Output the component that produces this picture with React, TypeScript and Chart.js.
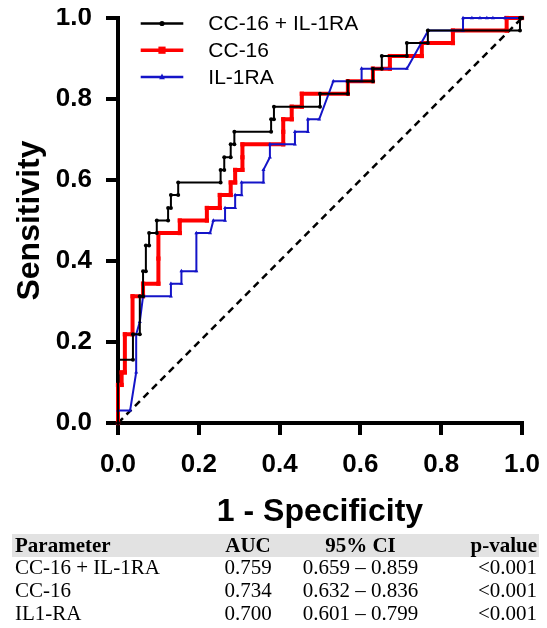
import React, { useEffect, useRef } from 'react';
import { Chart, registerables } from 'chart.js';

Chart.register(...registerables);

// ---- Data (1 - Specificity, Sensitivity) ----
const comboLabel = 'CC-16 + IL-1RA';
const comboFpr = [0, 0, 0.037, 0.037, 0.054, 0.054, 0.062, 0.062, 0.069, 0.069, 0.077, 0.077, 0.096, 0.096, 0.124, 0.124, 0.131, 0.131, 0.149, 0.149, 0.254, 0.254, 0.263, 0.263, 0.279, 0.279, 0.288, 0.288, 0.379, 0.379, 0.386, 0.386, 0.5, 0.5, 0.569, 0.569, 0.631, 0.631, 0.653, 0.653, 0.715, 0.715, 0.767, 0.767, 0.995, 0.995, 1];
const comboTpr = [0, 0.156, 0.156, 0.219, 0.219, 0.313, 0.313, 0.375, 0.375, 0.438, 0.438, 0.469, 0.469, 0.5, 0.5, 0.531, 0.531, 0.563, 0.563, 0.594, 0.594, 0.625, 0.625, 0.656, 0.656, 0.688, 0.688, 0.719, 0.719, 0.75, 0.75, 0.781, 0.781, 0.813, 0.813, 0.844, 0.844, 0.875, 0.875, 0.906, 0.906, 0.938, 0.938, 0.969, 0.969, 1, 1];

const cc16Label = 'CC-16';
const cc16Fpr = [0, 0, 0.009, 0.009, 0.017, 0.017, 0.036, 0.036, 0.062, 0.062, 0.1, 0.1, 0.1, 0.153, 0.153, 0.22, 0.22, 0.252, 0.252, 0.279, 0.279, 0.29, 0.29, 0.308, 0.308, 0.308, 0.409, 0.409, 0.409, 0.43, 0.43, 0.455, 0.455, 0.569, 0.569, 0.631, 0.631, 0.673, 0.673, 0.752, 0.752, 0.829, 0.829, 0.962, 0.962, 1];
const cc16Tpr = [0, 0.094, 0.094, 0.125, 0.125, 0.219, 0.219, 0.313, 0.313, 0.344, 0.344, 0.406, 0.469, 0.469, 0.5, 0.5, 0.531, 0.531, 0.563, 0.563, 0.594, 0.594, 0.625, 0.625, 0.656, 0.688, 0.688, 0.719, 0.75, 0.75, 0.781, 0.781, 0.813, 0.813, 0.844, 0.844, 0.875, 0.875, 0.906, 0.906, 0.938, 0.938, 0.969, 0.969, 1, 1];

const il1raLabel = 'IL-1RA';
const il1raFpr = [0, 0, 0.03, 0.045, 0.045, 0.054, 0.062, 0.131, 0.131, 0.157, 0.157, 0.194, 0.194, 0.228, 0.236, 0.265, 0.265, 0.29, 0.29, 0.306, 0.306, 0.36, 0.36, 0.376, 0.376, 0.438, 0.438, 0.47, 0.47, 0.498, 0.533, 0.603, 0.603, 0.715, 0.768, 0.854, 0.854, 0.876, 0.896, 0.913, 0.928, 0.958, 0.995, 1];
const il1raTpr = [0, 0.031, 0.031, 0.125, 0.219, 0.25, 0.313, 0.313, 0.344, 0.344, 0.375, 0.375, 0.469, 0.469, 0.5, 0.5, 0.531, 0.531, 0.563, 0.563, 0.594, 0.594, 0.625, 0.656, 0.688, 0.688, 0.719, 0.719, 0.75, 0.75, 0.844, 0.844, 0.875, 0.875, 0.969, 0.969, 1, 1, 1, 1, 1, 1, 1, 1];

const refFpr = [0, 1];
const refTpr = [0, 1];

const axisTicks = [0, 0.2, 0.4, 0.6, 0.8, 1.0];
const xTitle = '1 - Specificity';
const yTitle = 'Sensitivity';

// ---- Table ----
const tableHeader = ['Parameter', 'AUC', '95% CI', 'p-value'];
const tableParams = ['CC-16 + IL-1RA', 'CC-16', 'IL1-RA'];
const tableAuc = ['0.759', '0.734', '0.700'];
const tableCi = ['0.659 \u2013 0.859', '0.632 \u2013 0.836', '0.601 \u2013 0.799'];
const tableP = ['<0.001', '<0.001', '<0.001'];

const toPoints = (xs: number[], ys: number[]) => xs.map((x, i) => ({ x, y: ys[i] }));

const BLUE = '#1414c8';
const RED = '#ff0000';
const SANS = '"Liberation Sans", Arial, sans-serif';

function drawMarker(ctx: CanvasRenderingContext2D, style: string, x: number, y: number, r: number, color: string) {
  ctx.fillStyle = color;
  ctx.beginPath();
  if (style === 'circle') {
    ctx.arc(x, y, r, 0, Math.PI * 2);
  } else if (style === 'rect') {
    ctx.rect(x - r, y - r, 2 * r, 2 * r);
  } else {
    ctx.moveTo(x, y - r * 1.2);
    ctx.lineTo(x + r, y + r * 0.8);
    ctx.lineTo(x - r, y + r * 0.8);
    ctx.closePath();
  }
  ctx.fill();
}

const legendPlugin = {
  id: 'rocLegend',
  afterDatasetsDraw(chart: any) {
    const ctx: CanvasRenderingContext2D = chart.ctx;
    const { left, top } = chart.chartArea;
    const order = [0, 2, 1];
    order.forEach((idx, i) => {
      const ds = chart.data.datasets[idx];
      const y = top + 5.5 + i * 26.7;
      const x0 = left + 22.7;
      const x1 = left + 65.3;
      ctx.save();
      ctx.strokeStyle = ds.borderColor;
      ctx.lineWidth = ds.legendWidth;
      ctx.beginPath();
      ctx.moveTo(x0, y);
      ctx.lineTo(x1, y);
      ctx.stroke();
      drawMarker(ctx, ds.pointStyle, (x0 + x1) / 2, y, ds.pointRadius + 0.6, ds.borderColor);
      ctx.fillStyle = '#000';
      ctx.font = `21px ${SANS}`;
      ctx.textBaseline = 'middle';
      ctx.textAlign = 'left';
      ctx.fillText(ds.label, left + 90.3, y + 1);
      ctx.restore();
    });
  },
};

export default function App() {
  const ref = useRef<HTMLCanvasElement>(null);

  useEffect(() => {
    if (!ref.current) return;
    const chart = new Chart(ref.current, {
      type: 'scatter',
      data: {
        datasets: [
          {
            label: comboLabel,
            data: toPoints(comboFpr, comboTpr),
            showLine: true,
            borderColor: '#000',
            backgroundColor: '#000',
            borderWidth: 2,
            legendWidth: 2.5,
            pointStyle: 'circle',
            pointRadius: 2,
            pointBorderWidth: 0,
            clip: false,
          } as any,
          {
            label: il1raLabel,
            data: toPoints(il1raFpr, il1raTpr),
            showLine: true,
            borderColor: BLUE,
            backgroundColor: BLUE,
            borderWidth: 2,
            legendWidth: 2.5,
            pointStyle: 'triangle',
            pointRadius: 2.3,
            pointBorderWidth: 0,
            clip: false,
          } as any,
          {
            label: cc16Label,
            data: toPoints(cc16Fpr, cc16Tpr),
            showLine: true,
            borderColor: RED,
            backgroundColor: RED,
            borderWidth: 4,
            legendWidth: 3.5,
            pointStyle: 'rect',
            pointRadius: 3,
            pointBorderWidth: 0,
            clip: false,
          } as any,
          {
            label: 'Reference',
            data: toPoints(refFpr, refTpr),
            showLine: true,
            borderColor: '#000',
            borderWidth: 2.5,
            borderDash: [7, 5],
            pointRadius: 0,
            clip: false,
          } as any,
        ],
      },
      options: {
        animation: false,
        responsive: false,
        maintainAspectRatio: false,
        layout: { padding: 0 },
        plugins: {
          legend: { display: false },
          tooltip: { enabled: false },
        },
        elements: { line: { tension: 0 } },
        scales: {
          x: {
            type: 'linear',
            position: 'bottom',
            min: 0,
            max: 1,
            afterBuildTicks: (scale: any) => {
              scale.ticks = axisTicks.map((v) => ({ value: v }));
            },
            afterFit: (scale: any) => {
              scale.height = 111;
              scale.paddingLeft = 0;
              scale.paddingRight = 17;
            },
            grid: {
              display: true,
              drawOnChartArea: false,
              drawTicks: true,
              tickLength: 12,
              tickWidth: 4,
              tickColor: '#000',
              color: '#000',
              lineWidth: 4,
            },
            border: { display: true, color: '#000', width: 4 },
            ticks: {
              padding: 14,
              color: '#000',
              font: { family: SANS, size: 26, weight: 'bold' },
              callback: (v: any) => Number(v).toFixed(1),
            },
            title: {
              display: true,
              text: xTitle,
              color: '#000',
              font: { family: SANS, size: 32, weight: 'bold' },
              padding: { top: 0, bottom: 3 },
            },
          },
          y: {
            type: 'linear',
            position: 'left',
            min: 0,
            max: 1,
            afterBuildTicks: (scale: any) => {
              scale.ticks = axisTicks.map((v) => ({ value: v }));
            },
            afterFit: (scale: any) => {
              scale.width = 110;
              scale.paddingTop = 10;
              scale.paddingBottom = 0;
            },
            grid: {
              display: true,
              drawOnChartArea: false,
              drawTicks: true,
              tickLength: 12,
              tickWidth: 4,
              tickColor: '#000',
              color: '#000',
              lineWidth: 4,
            },
            border: { display: true, color: '#000', width: 4 },
            ticks: {
              padding: 14,
              color: '#000',
              font: { family: SANS, size: 26, weight: 'bold' },
              callback: (v: any) => Number(v).toFixed(1),
            },
            title: {
              display: true,
              text: yTitle,
              color: '#000',
              font: { family: SANS, size: 32, weight: 'bold' },
              padding: { top: 3, bottom: 0 },
            },
          },
        },
      } as any,
      plugins: [legendPlugin],
    });
    return () => chart.destroy();
  }, []);

  const cell: React.CSSProperties = {
    padding: '0 2px 3px 2px',
    height: 20,
    lineHeight: '20px',
    whiteSpace: 'nowrap',
    verticalAlign: 'top',
  };

  return (
    <div style={{ width: 531, height: 612, overflow: 'hidden' }}>
      <canvas ref={ref} width={531} height={526} style={{ display: 'block', width: 531, height: 526 }} />
      <table
        style={{
          borderCollapse: 'collapse',
          width: 527,
          marginLeft: 4,
          fontFamily: '"Liberation Serif", "Times New Roman", serif',
          fontSize: 21,
          color: '#000',
          tableLayout: 'fixed',
        }}
      >
        <colgroup>
          <col style={{ width: 186 }} />
          <col style={{ width: 100 }} />
          <col style={{ width: 125 }} />
          <col style={{ width: 116 }} />
        </colgroup>
        <thead>
          <tr style={{ background: '#e2e2e2' }}>
            <th style={{ ...cell, textAlign: 'left', paddingLeft: 3, paddingTop: 1, paddingBottom: 2 }}>{tableHeader[0]}</th>
            <th style={{ ...cell, textAlign: 'center', paddingTop: 1, paddingBottom: 2 }}>{tableHeader[1]}</th>
            <th style={{ ...cell, textAlign: 'center', paddingTop: 1, paddingBottom: 2 }}>{tableHeader[2]}</th>
            <th style={{ ...cell, textAlign: 'right', paddingTop: 1, paddingBottom: 2 }}>{tableHeader[3]}</th>
          </tr>
        </thead>
        <tbody>
          {tableParams.map((p, i) => (
            <tr key={p}>
              <td style={{ ...cell, textAlign: 'left', paddingLeft: 3 }}>{p}</td>
              <td style={{ ...cell, textAlign: 'center' }}>{tableAuc[i]}</td>
              <td style={{ ...cell, textAlign: 'center' }}>{tableCi[i]}</td>
              <td style={{ ...cell, textAlign: 'right' }}>{tableP[i]}</td>
            </tr>
          ))}
        </tbody>
      </table>
    </div>
  );
}
